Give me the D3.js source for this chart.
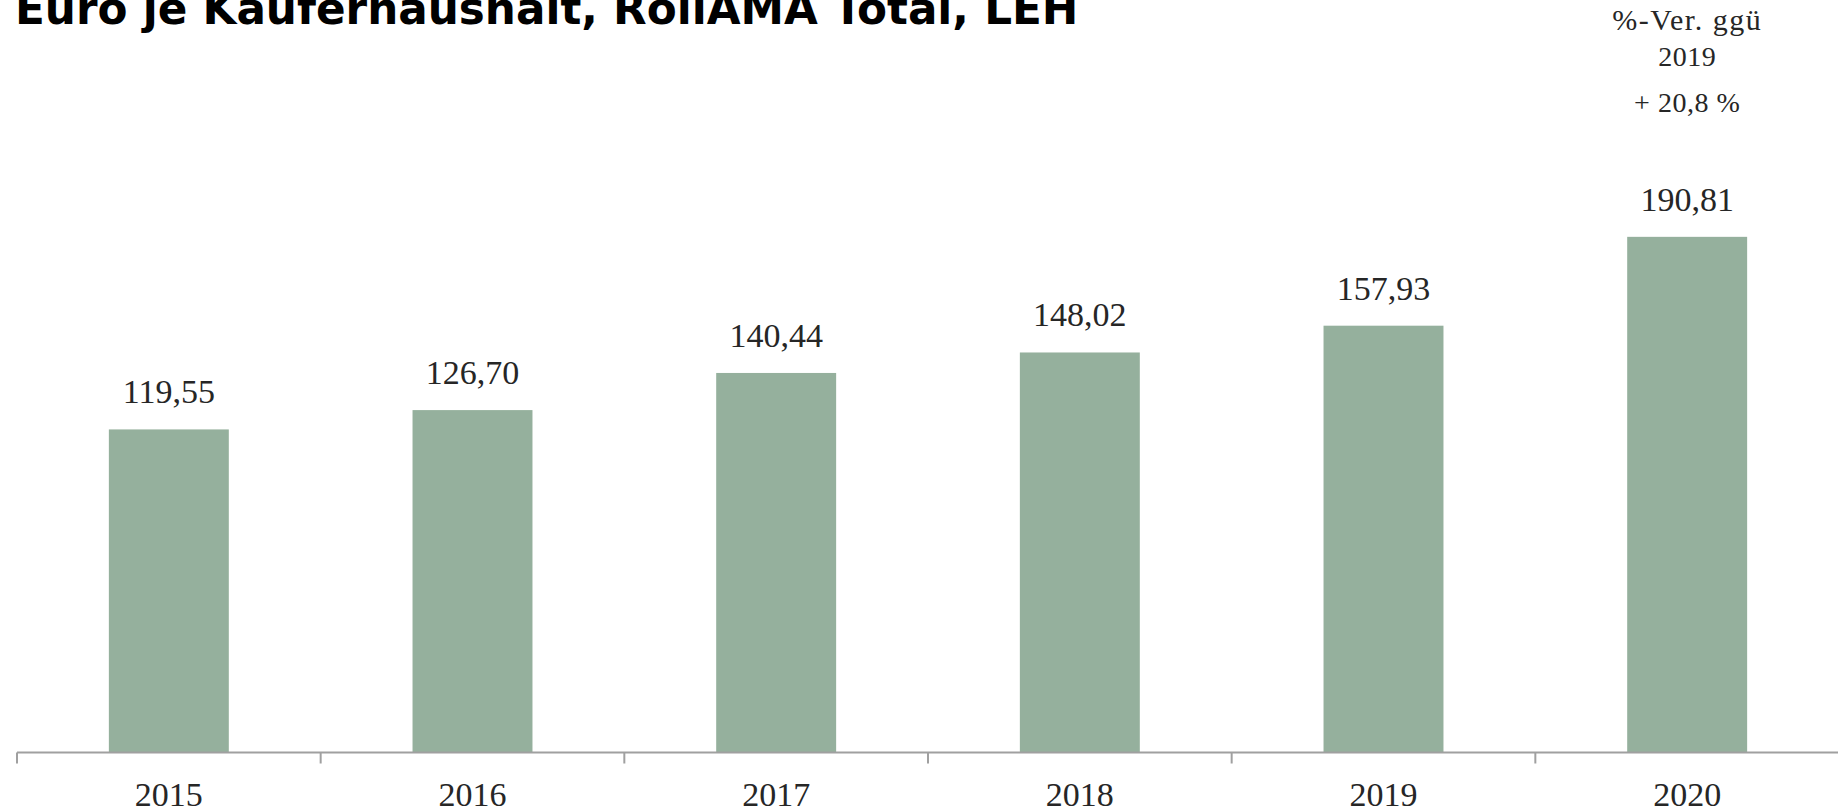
<!DOCTYPE html>
<html lang="de">
<head>
    <meta charset="UTF-8">
    <title>Euro je Käuferhaushalt</title>
    <script src="https://d3js.org/d3.v7.min.js"></script>
    <style>
        body {
            margin: 0;
            padding: 0;
            background: #fff;
        }
        svg {
            display: block;
        }
        .val, .year, .note {
            font-family: "Liberation Serif", "DejaVu Serif", serif;
            fill: #262626;
        }
        .title {
            font-family: "DejaVu Sans", "Open Sans", sans-serif;
            font-weight: 700;
            fill: #000;
        }
    </style>
</head>
<body>
    <svg id="chart" width="1838" height="812"></svg>

    <script>
        // data
        const years = ["2015", "2016", "2017", "2018", "2019", "2020"];
        const values = [119.55, 126.70, 140.44, 148.02, 157.93, 190.81];
        const titleText = "Euro je Kauferhaushalt, RollAMA Total, LEH";
        const noteLines = ["%-Ver. ggü", "2019", "+ 20,8 %"];

        const svg = d3.select("#chart");
        const fmt = v => d3.format(".2f")(v).replace(".", ",");

        const baseY = 752.5;
        const x = d3.scaleBand()
            .domain(years)
            .range([17, 1839])
            .paddingInner(0.605)
            .paddingOuter(0.3025);
        const y = d3.scaleLinear().domain([0, 200]).range([baseY, 212]);

        const data = years.map((yr, i) => ({ year: yr, value: values[i] }));

        // title (its top is cut by the page edge, as in the original)
        const title = svg.append("text")
            .attr("class", "title")
            .attr("x", 15)
            .attr("y", 24)
            .style("font-size", "40px")
            .text(titleText);
        // fit title width to the original (~1063px)
        const tw = title.node().getComputedTextLength();
        title.style("font-size", (40 * 1063 / tw).toFixed(1) + "px");

        // bars
        svg.selectAll("rect.bar")
            .data(data)
            .enter()
            .append("rect")
            .attr("class", "bar")
            .attr("x", d => x(d.year))
            .attr("y", d => y(d.value))
            .attr("width", x.bandwidth())
            .attr("height", d => baseY - y(d.value))
            .attr("fill", "#95b09d");

        // value labels
        svg.selectAll("text.val")
            .data(data)
            .enter()
            .append("text")
            .attr("class", "val")
            .attr("x", d => x(d.year) + x.bandwidth() / 2)
            .attr("y", d => y(d.value) - 26)
            .attr("text-anchor", "middle")
            .style("font-size", "34px")
            .text(d => fmt(d.value));

        // x axis: line, ticks between categories, labels
        const step = x.step();
        const edge = d => x(d) - (step - x.bandwidth()) / 2;
        const bounds = years.map(edge).concat([edge(years[years.length - 1]) + step]);

        svg.append("line")
            .attr("x1", bounds[0])
            .attr("x2", 1838)
            .attr("y1", baseY)
            .attr("y2", baseY)
            .attr("stroke", "#a0a0a0")
            .attr("stroke-width", 2);

        svg.selectAll("line.tick")
            .data(bounds)
            .enter()
            .append("line")
            .attr("class", "tick")
            .attr("x1", d => d)
            .attr("x2", d => d)
            .attr("y1", baseY)
            .attr("y2", baseY + 11)
            .attr("stroke", "#a0a0a0")
            .attr("stroke-width", 2);

        svg.selectAll("text.year")
            .data(years)
            .enter()
            .append("text")
            .attr("class", "year")
            .attr("x", d => x(d) + x.bandwidth() / 2)
            .attr("y", 806)
            .attr("text-anchor", "middle")
            .style("font-size", "34px")
            .text(d => d);

        // change note above last bar
        const noteX = x(years[5]) + x.bandwidth() / 2;
        const noteY = [30, 66, 112];
        svg.selectAll("text.note")
            .data(noteLines)
            .enter()
            .append("text")
            .attr("class", "note")
            .attr("x", noteX)
            .attr("y", (d, i) => noteY[i])
            .attr("text-anchor", "middle")
            .style("font-size", (d, i) => i === 0 ? "30px" : "28px")
            .style("letter-spacing", (d, i) => i === 0 ? "1.5px" : "0.5px")
            .text(d => d);
    </script>
</body>
</html>
